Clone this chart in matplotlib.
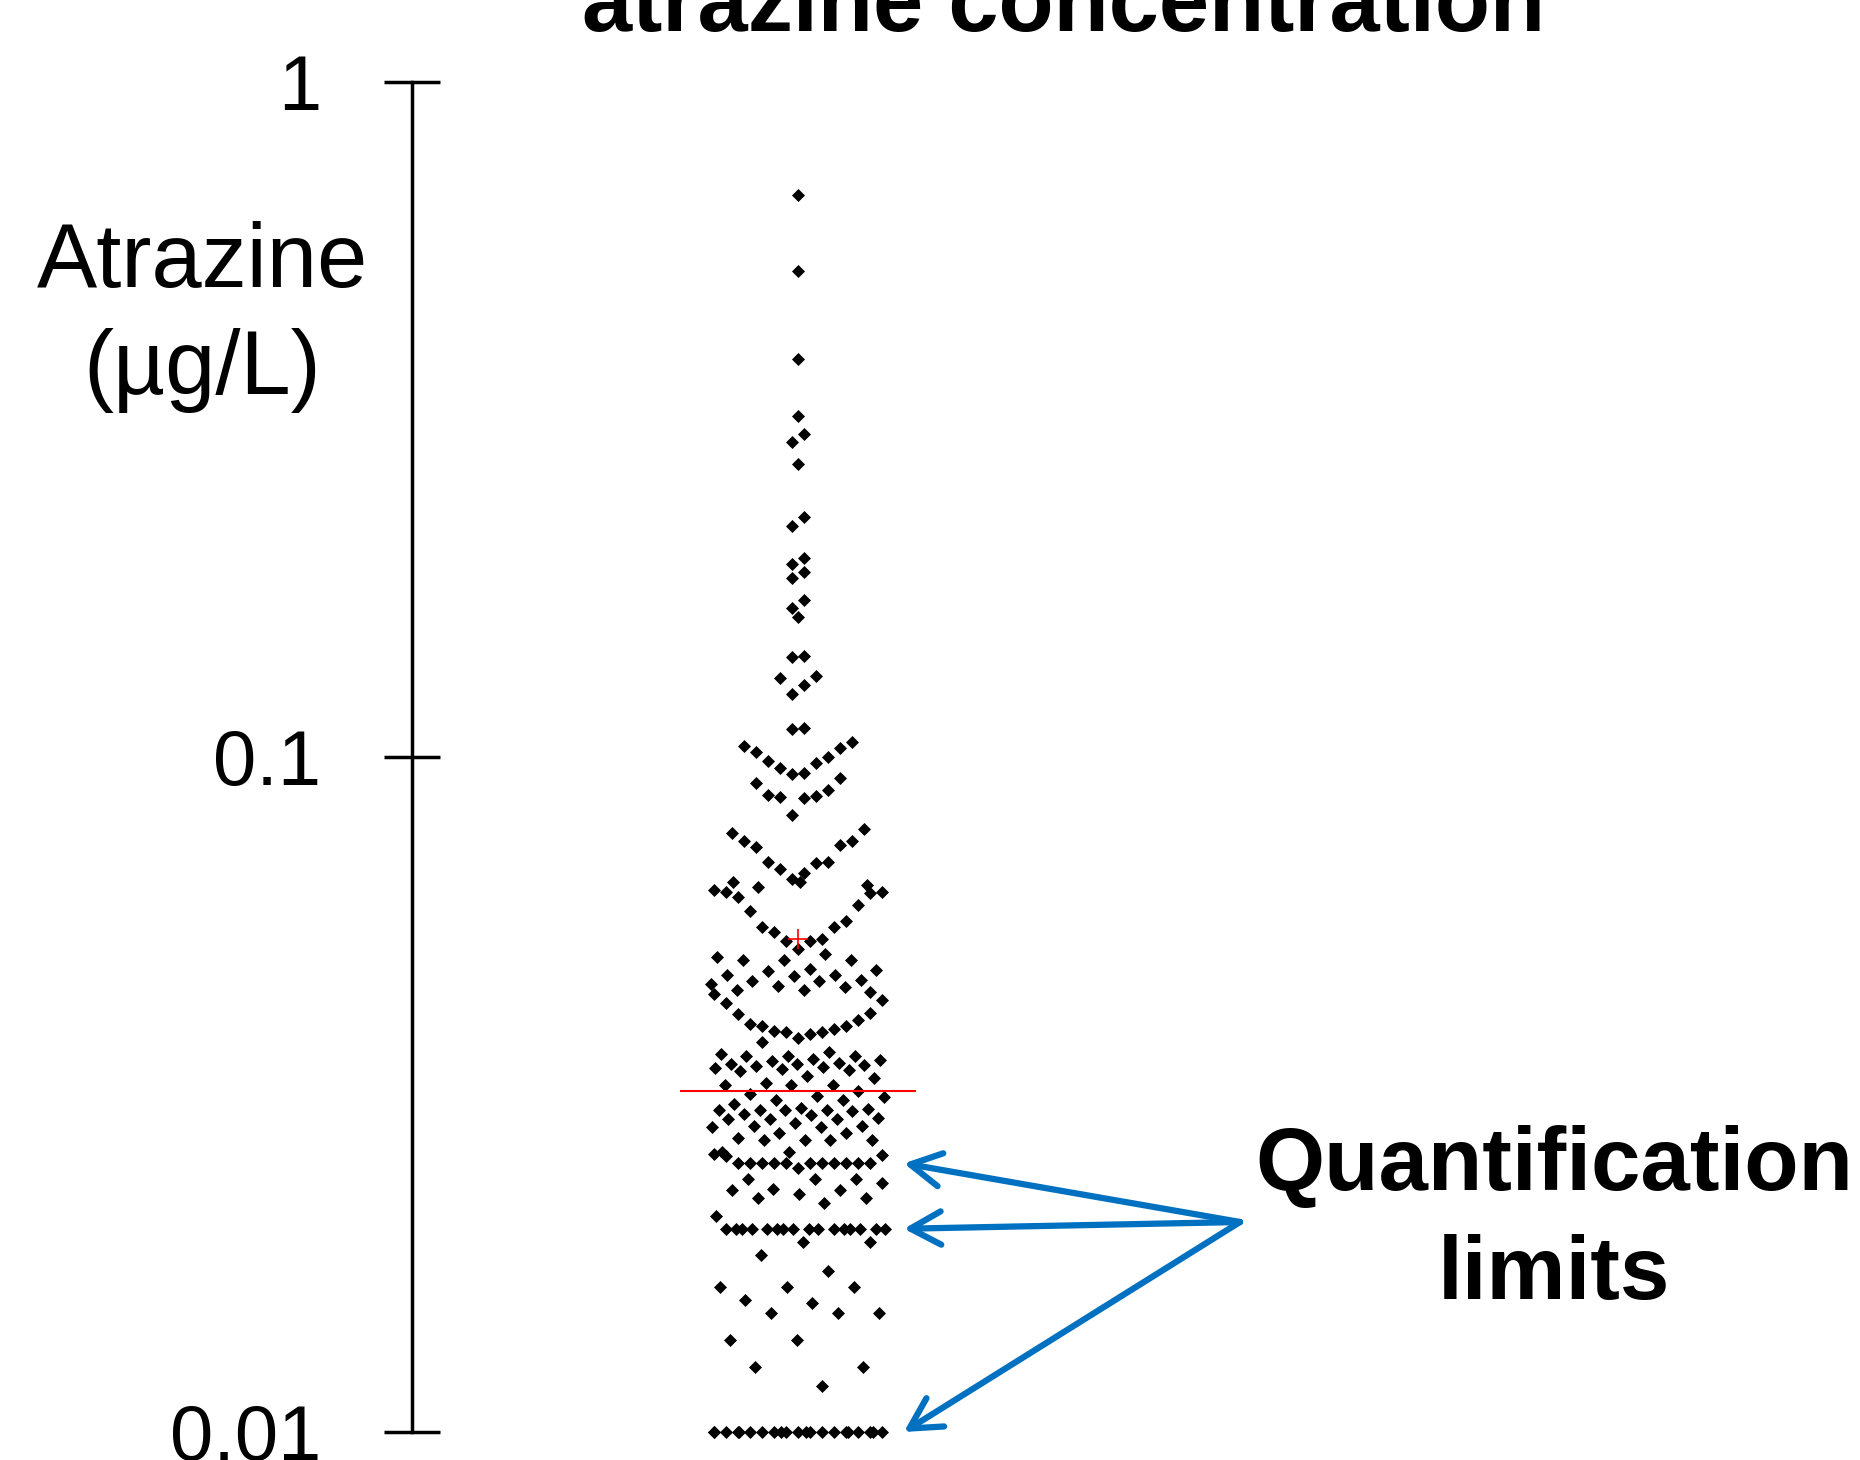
"""Atrazine concentration dot plot with the median, the mean and the quantification limits."""
import matplotlib

matplotlib.use("Agg")
import matplotlib.pyplot as plt
import numpy as np

plt.rcParams["font.family"] = ["Liberation Sans", "DejaVu Sans"]

# atrazine concentrations (ug/L), highest first
ATRAZINE = [
    0.679, 0.525, 0.388, 0.320, 0.301, 0.293, 0.272, 0.227, 0.220, 0.197, 0.193, 0.188,
    0.184, 0.171, 0.166, 0.161, 0.1413, 0.1408, 0.132, 0.131, 0.128, 0.124, 0.1105, 0.110,
    0.1051, 0.1037, 0.1032, 0.1018, 0.1001, 0.0985, 0.0979, 0.0963, 0.0948, 0.0944,
    0.0931, 0.0915, 0.0894, 0.0879, 0.0874, 0.0873, 0.0870, 0.0819,
    0.0782, 0.0772, 0.0751, 0.0751, 0.0740, 0.0735, 0.0700, 0.0700, 0.0696, 0.0683, 0.0672, 0.0659,
    0.0652, 0.0652, 0.0646, 0.0642, 0.0635, 0.0630, 0.0630, 0.0629, 0.0621, 0.0604, 0.0592,
    0.0571, 0.0560, 0.0559, 0.0551, 0.0537, 0.0534, 0.0534, 0.0519,
    0.0510, 0.0505, 0.0501, 0.0501, 0.0501, 0.0485, 0.0483, 0.0481, 0.0475, 0.0475, 0.0473,
    0.0468, 0.0466, 0.0466, 0.0461, 0.0458, 0.0456, 0.0451, 0.0451, 0.0448, 0.0446, 0.0436,
    0.0432, 0.0418, 0.0416, 0.0407, 0.0402, 0.0400, 0.0399, 0.0396, 0.0393, 0.0391, 0.0391,
    0.0389, 0.0384,
    0.0378, 0.0366, 0.0363, 0.0361, 0.0360, 0.0360, 0.0357, 0.0356, 0.0355, 0.0352, 0.0351,
    0.0351, 0.0350, 0.0349, 0.0347, 0.0346, 0.0345, 0.0344, 0.0343, 0.0337, 0.0334, 0.0329,
    0.0327, 0.0327, 0.0327, 0.0320, 0.0317, 0.0315, 0.0314, 0.0310, 0.0310, 0.0306, 0.0302,
    0.0301, 0.0300, 0.0300, 0.0300, 0.0300, 0.0299, 0.0296, 0.0295, 0.0292, 0.0291, 0.0291,
    0.0291, 0.0287, 0.0284, 0.0284, 0.0283, 0.0283, 0.0277, 0.0277, 0.0273, 0.0271, 0.0271,
    0.0271, 0.0271, 0.0260, 0.0260, 0.0258, 0.0257, 0.0256,
] + [0.025] * 11 + [
    0.0246, 0.0237, 0.0237, 0.0237, 0.0234, 0.0229, 0.0228, 0.0228, 0.0225, 0.0222, 0.0222,
    0.0218, 0.0209,
] + [0.02] * 16 + [
    0.0191, 0.0191, 0.0183, 0.0173, 0.0164, 0.0164, 0.0164, 0.0157, 0.0155, 0.0150, 0.0150,
    0.0150, 0.0137, 0.0137, 0.0125, 0.0125, 0.0117,
] + [0.01] * 21

MEDIAN = 0.0320   # red line
MEAN = 0.0537     # red cross
QUANT_LIMITS = [0.025, 0.02, 0.01]
TICKS = [0.01, 0.1, 1]
TICK_LABELS = ["0.01", "0.1", "1"]
BLUE = "#0070C0"


def dot_offsets(values, n_bins=48, max_slots=15):
    """Horizontal slot of each dot: values binned, each bin laid out from the centre outwards,
    lowest value first; what does not fit in the row is spread over the row width."""
    v = np.asarray(values, dtype=float)
    lo, hi = v.min(), v.max()
    idx = np.minimum(((v - lo) / ((hi - lo) / n_bins)).astype(int), n_bins - 1)
    x = np.zeros(len(v))
    k = 0
    for b in np.unique(idx):
        members = np.where(idx == b)[0]
        members = members[np.argsort(v[members], kind="stable")]
        m = min(len(members), max_slots)
        if m % 2:
            slots = [0] + [s * j for j in range(1, m // 2 + 1) for s in (1, -1)]
        else:
            slots = [s * (j - 0.5) for j in range(1, m // 2 + 1) for s in (-1, 1)]
        for i, p in enumerate(members):
            if i < m:
                x[p] = slots[i]
            else:
                k += 1
                x[p] = ((k * 0.618034 + 0.31) % 1 * 2 - 1) * (max_slots // 2 + 0.3)
    return x


def main():
    fig = plt.figure(figsize=(18.6, 14.6), dpi=100)
    ax = fig.add_axes([0.2215, 0.0192, 0.7785, 0.9247])

    x = dot_offsets(ATRAZINE)
    ax.scatter(x, ATRAZINE, s=44, marker="D", color="black", linewidths=0, zorder=3, clip_on=False)
    ax.plot([-9.75, 9.75], [MEDIAN, MEDIAN], color="red", lw=1.5, zorder=4)
    ax.plot([0], [MEAN], marker="+", ms=14, mew=1.2, color="red", zorder=5)

    ax.set_yscale("log")
    ax.set_ylim(0.01, 1)
    ax.set_xlim(-32.2, 88.5)
    ax.set_yticks(TICKS, labels=TICK_LABELS)
    ax.minorticks_off()
    ax.tick_params(axis="y", direction="inout", length=41, width=2.5, pad=45, labelsize=56)
    ax.set_xticks([])
    for s in ("top", "right", "bottom"):
        ax.spines[s].set_visible(False)
    ax.spines["left"].set_linewidth(2.5)

    fig.text(0.572, 1 - 31 / 1460, "atrazine concentration", ha="center", va="baseline",
             fontsize=65, fontweight="bold")
    fig.text(0.1086, 1 - 394 / 1460, "Atrazine\n(µg/L)", ha="center", va="baseline",
             fontsize=65, linespacing=1.33, multialignment="center")

    # quantification limits: arrows from the label to the right end of each row
    for q in QUANT_LIMITS:
        ax.annotate("", xy=(8.8, q), xycoords="data", xytext=(1240 / 1860, 1 - 1222 / 1460),
                    textcoords="figure fraction", annotation_clip=False,
                    arrowprops=dict(arrowstyle="->,head_length=0.55,head_width=0.3", color=BLUE,
                                    lw=4.5, mutation_scale=40, shrinkA=0, shrinkB=0))
    fig.text(1554 / 1860, 1 - 1299 / 1460, "Quantification\nlimits", ha="center", va="baseline",
             fontsize=64, fontweight="bold", linespacing=1.38, multialignment="center")

    fig.savefig("out.png", dpi=100)


if __name__ == "__main__":
    main()
